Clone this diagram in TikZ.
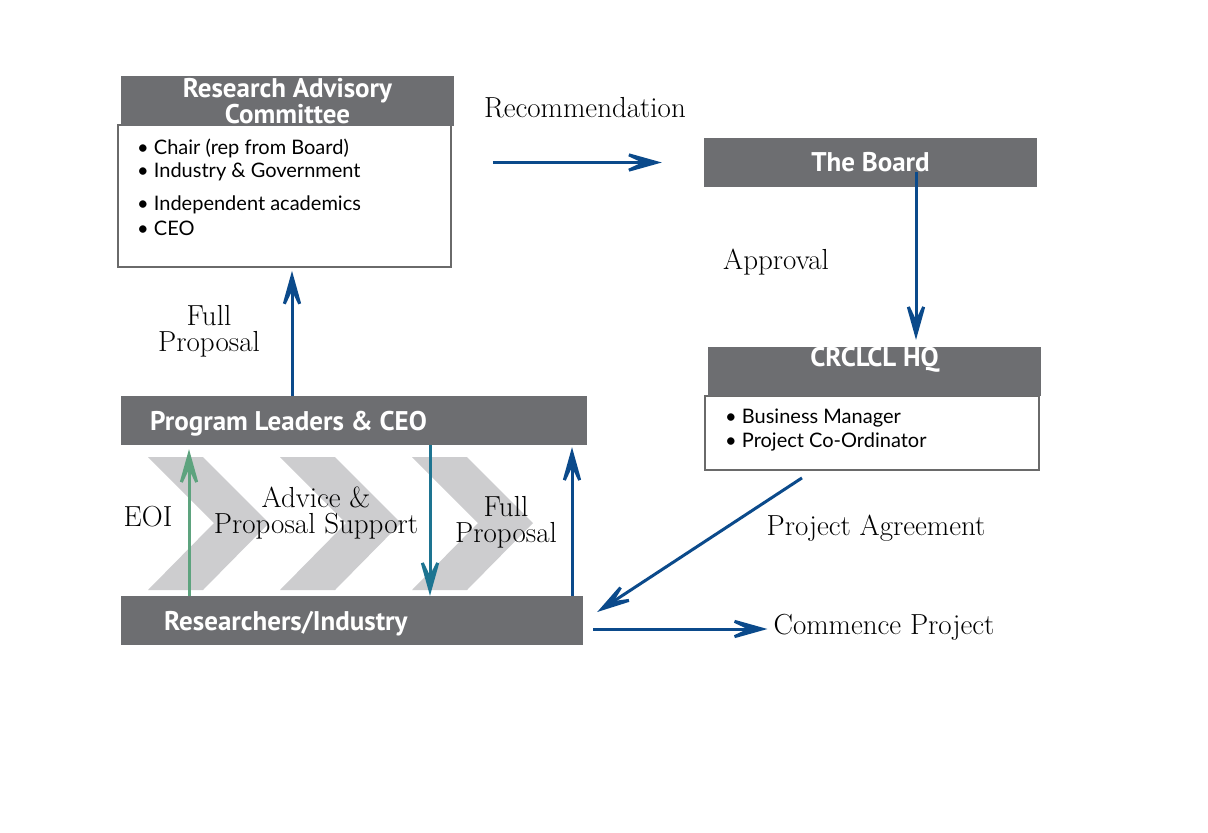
\documentclass[tikz,border=0pt]{standalone}
\usepackage{fontspec}
\newfontfamily\hdrfont{PT Sans}
\newfontfamily\bulfont{Lato}
\usetikzlibrary{arrows.meta}
\definecolor{hdrgray}{HTML}{6D6E71}
\definecolor{chevgray}{HTML}{CDCDCF}
\definecolor{arrblue}{HTML}{0B4A8B}
\definecolor{arrteal}{HTML}{1D7491}
\definecolor{arrgreen}{HTML}{5DA37E}
\definecolor{bordergray}{HTML}{6A6A6A}
\begin{document}
\begin{tikzpicture}[x=1pt,y=-1pt,
  hdr/.style={fill=hdrgray, draw=none, minimum width=333pt, minimum height=49pt, inner sep=0pt,
    text=white, font=\hdrfont\bfseries\fontsize{27}{24}\selectfont, align=center},
  hdrtext/.style={text=white, font=\hdrfont\bfseries\fontsize{27}{24}\selectfont, inner sep=0pt},
  body/.style={fill=white, draw=bordergray, line width=1.8pt, minimum width=333pt, inner sep=0pt},
  bul/.style={font=\bulfont\fontsize{20}{22}\selectfont, anchor=west, inner sep=0pt},
  lbl/.style={font=\fontsize{29}{26}\selectfont, align=center, inner sep=0pt},
  tipa/.style={-{Stealth[length=50pt,width=28pt,inset=30pt]}},
  flow/.style={draw=arrblue, line width=3pt, tipa},
  flowteal/.style={draw=arrteal, line width=3pt, tipa},
  flowgreen/.style={draw=arrgreen, line width=3pt, tipa},
  chev/.style={fill=chevgray}
]
\useasboundingbox (0,0) rectangle (1208,833);
\fill[white] (0,0) rectangle (1208,833);

% chevrons
\foreach \cx in {148,280,412}{
  \fill[chev] (\cx,457) -- (\cx+55,457) -- (\cx+121,523) -- (\cx+55,590) -- (\cx,590) -- (\cx+66,523) -- cycle;
}

% Research Advisory Committee
\node[body, minimum height=142pt] (racb) at (284.5,196) {};
\node[hdr, minimum height=50pt] (rach) at (287.5,101) {Research Advisory\\Committee};
\node[bul] (rac1) at (137,148) {\textbullet\ Chair (rep from Board)};
\node[bul] (rac2) at (137,172) {\textbullet\ Industry \& Government};
\node[bul] (rac3) at (137,205) {\textbullet\ Independent academics};
\node[bul] (rac4) at (137,228) {\textbullet\ CEO};

% The Board
\node[hdr] (board) at (870.5,162.5) {The Board};

% CRCLCL HQ
\node[body, minimum height=74pt, minimum width=334pt] (hqb) at (872,433) {};
\node[hdr] (hqh) at (874.5,371.5) {};
\node[hdrtext] (hqt) at (874.5,360) {CRCLCL HQ};
\node[bul] (hq1) at (725,418) {\textbullet\ Business Manager};
\node[bul] (hq2) at (725,442) {\textbullet\ Project Co-Ordinator};

% Program Leaders & CEO
\node[hdr, minimum width=466pt] (pl) at (354,420.5) {};
\node[hdrtext, anchor=west] (plt) at (150,424) {Program Leaders \& CEO};

% Researchers/Industry
\node[hdr, minimum width=462pt] (ri) at (352,620.5) {};
\node[hdrtext, anchor=west] (rit) at (164,624) {Researchers/Industry};

% labels
\node[lbl] (rec) at (585,108) {Recommendation};
\node[lbl] (appr) at (776,262) {Approval};
\node[lbl] (fpl) at (209,331) {Full\\Proposal};
\node[lbl] (eoi) at (148,517) {EOI};
\node[lbl] (adv) at (316,513) {Advice \&\\Proposal Support};
\node[lbl] (fpr) at (506,522) {Full\\Proposal};
\node[lbl] (pa) at (876,528) {Project Agreement};
\node[lbl] (cp) at (884,627) {Commence Project};

% connectors
\coordinate (cpstart) at ([xshift=10pt,yshift=-8.5pt]ri.east);
\draw[flow, shorten <=41pt, shorten >=42pt] (racb.east |- board.west) -- (board.west);
\draw[flow, shorten >=7pt] ([xshift=45.5pt,yshift=15pt]board.south) -- ([xshift=41.5pt]hqh.north);
\draw[flow, shorten >=3pt] ([xshift=-62pt]pl.north) -- ([xshift=7.5pt]racb.south);
\draw[flowgreen, shorten >=4pt] ([xshift=-163pt]ri.north) -- ([xshift=-165pt]pl.south);
\draw[flowteal] ([xshift=76pt]pl.south) -- ([xshift=78pt]ri.north);
\draw[flow, shorten >=2pt] ([xshift=220pt]ri.north) -- ([xshift=218pt]pl.south);
\draw[flow] ([xshift=-70pt,yshift=-7pt]hqb.south) -- ([xshift=14pt,yshift=8.5pt]ri.east);
\draw[flow, shorten >=6pt] (cpstart) -- (cp.west |- cpstart);
\end{tikzpicture}
\end{document}
